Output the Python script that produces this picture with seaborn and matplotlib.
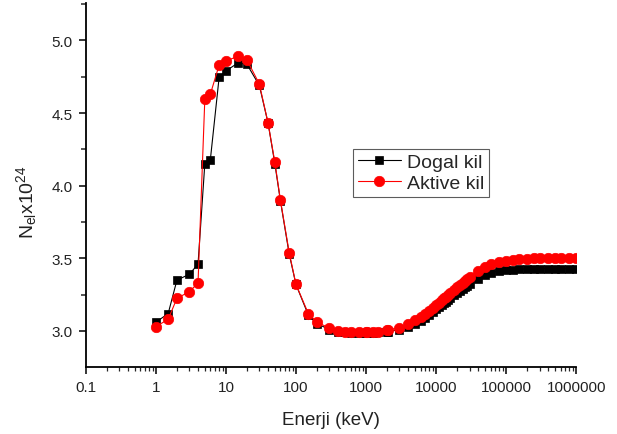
import numpy as np
import pandas as pd
import matplotlib
matplotlib.use("Agg")
import matplotlib.pyplot as plt
import matplotlib.ticker as mticker
import seaborn as sns

# Photon energies (keV)
energy = [1, 1.5, 2, 3, 4, 5, 6, 8, 10, 15, 20, 30, 40, 50, 60, 80, 100,
          150, 200, 300, 400, 500, 600, 800, 1000, 1022, 1250, 1500, 2000, 2044,
          3000, 4000, 5000, 6000, 7000, 8000, 9000, 10000, 11000, 12000, 13000,
          14000, 15000, 16000, 18000, 20000, 22000, 24000, 26000, 28000, 30000,
          40000, 50000, 60000, 80000, 100000, 125000, 150000, 200000, 250000,
          300000, 400000, 500000, 600000, 800000, 1000000]

# Nel x 10^24 - Dogal kil
dogal = [3.06, 3.12, 3.35, 3.39, 3.46, 4.15, 4.18, 4.745, 4.79, 4.846, 4.835,
         4.69, 4.43, 4.15, 3.895, 3.53, 3.32,
         3.11, 3.05, 3.01, 2.995, 2.99, 2.985, 2.985, 2.985, 2.985, 2.985, 2.99,
         2.995, 2.995,
         3.01, 3.03, 3.05, 3.07, 3.09, 3.11, 3.13, 3.15, 3.165, 3.18, 3.19,
         3.20, 3.215, 3.225, 3.245, 3.26, 3.275, 3.29, 3.30, 3.31, 3.32,
         3.36, 3.385, 3.40, 3.415, 3.42, 3.423, 3.425, 3.428, 3.429,
         3.43, 3.43, 3.43, 3.43, 3.43, 3.43]

# Nel x 10^24 - Aktive kil
aktive = [3.03, 3.08, 3.225, 3.27, 3.33, 4.595, 4.63, 4.83, 4.86, 4.89, 4.865,
          4.70, 4.43, 4.16, 3.90, 3.54, 3.32,
          3.12, 3.06, 3.02, 3.00, 2.995, 2.99, 2.99, 2.99, 2.99, 2.99, 2.995,
          3.01, 3.01,
          3.02, 3.05, 3.075, 3.095, 3.12, 3.14, 3.16, 3.18, 3.195, 3.21, 3.225,
          3.235, 3.25, 3.26, 3.28, 3.30, 3.315, 3.33, 3.345, 3.355, 3.37,
          3.415, 3.44, 3.46, 3.475, 3.485, 3.49, 3.493, 3.497, 3.499,
          3.50, 3.50, 3.50, 3.50, 3.50, 3.50]

series_names = ["Dogal kil", "Aktive kil"]
x_tick_values = [0.1, 1, 10, 100, 1000, 10000, 100000, 1000000]
x_tick_labels = ["0.1", "1", "10", "100", "1000", "10000", "100000", "1000000"]
y_tick_values = [3.0, 3.5, 4.0, 4.5, 5.0]

sns.set_style("white")
plt.rcParams["font.family"] = ["Liberation Sans", "DejaVu Sans"]
plt.rcParams["mathtext.fontset"] = "custom"
plt.rcParams["mathtext.rm"] = "Liberation Sans"
plt.rcParams["mathtext.it"] = "Liberation Sans:italic"

fig = plt.figure(figsize=(6.17, 4.35), dpi=100)
ax = fig.add_axes([0.139, 0.154, 0.795, 0.836])

df1 = pd.DataFrame({"E": energy, "N": dogal})
df2 = pd.DataFrame({"E": energy, "N": aktive})

sns.lineplot(data=df1, x="E", y="N", ax=ax, color="black", linewidth=0.8,
             marker="s", markersize=6.2, markeredgecolor="black",
             markeredgewidth=0.5, label=series_names[0])
sns.lineplot(data=df2, x="E", y="N", ax=ax, color="red", linewidth=0.8,
             marker="o", markersize=7.5, markeredgecolor="red",
             markeredgewidth=0.5, label=series_names[1])

ax.set_xscale("log")
ax.set_xlim(0.1, 1000000)
ax.set_ylim(2.752, 5.255)

ax.xaxis.set_major_locator(mticker.FixedLocator(x_tick_values))
ax.xaxis.set_major_formatter(mticker.FixedFormatter(x_tick_labels))
ax.xaxis.set_minor_locator(mticker.LogLocator(base=10, subs=np.arange(2, 10), numticks=20))
ax.xaxis.set_minor_formatter(mticker.NullFormatter())

ax.yaxis.set_major_locator(mticker.FixedLocator(y_tick_values))
ax.yaxis.set_major_formatter(mticker.FormatStrFormatter("%.1f"))
ax.yaxis.set_minor_locator(mticker.MultipleLocator(0.25))

ax.tick_params(axis="both", which="major", direction="out", length=5, width=1.1,
               labelsize=11, color="black", labelcolor="#222222",
               left=True, bottom=True, pad=4.5)
ax.tick_params(axis="x", which="minor", direction="out", length=3, width=0.9,
               bottom=True)
ax.tick_params(axis="y", which="minor", direction="out", length=3.5, width=1.1,
               left=True)

for side in ["top", "right"]:
    ax.spines[side].set_visible(False)
for side in ["left", "bottom"]:
    ax.spines[side].set_linewidth(1.3)
    ax.spines[side].set_color("black")

ax.set_xlabel("Enerji (keV)", fontsize=13.5, color="#222222", labelpad=12)
ax.set_ylabel(r"N$_{\mathrm{el}}$x10$^{24}$", fontsize=14, color="#222222")
ax.yaxis.set_label_coords(-0.095, 0.455)

leg = ax.legend(loc="upper left", bbox_to_anchor=(0.545, 0.6), fontsize=14,
                frameon=True, fancybox=False, edgecolor="#333333",
                handlelength=2.2, handletextpad=0.3, borderpad=0.25,
                labelspacing=0.15, borderaxespad=0)
leg.get_frame().set_linewidth(0.8)

fig.savefig("out.png", dpi=100, facecolor="white")
